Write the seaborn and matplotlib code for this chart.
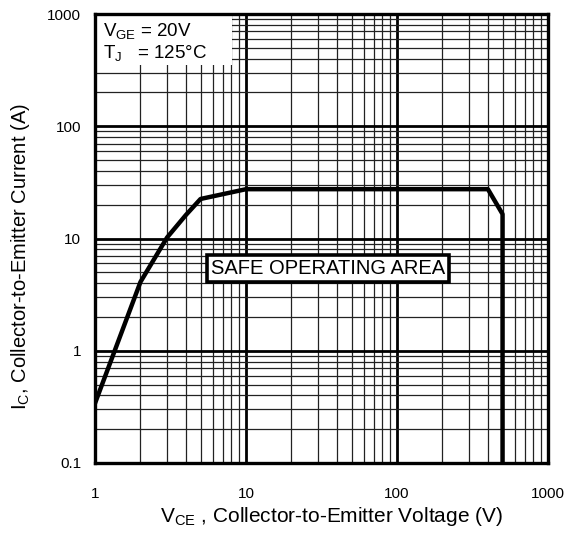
import matplotlib
matplotlib.use("Agg")
import matplotlib.pyplot as plt
import matplotlib.patches as patches
from matplotlib.ticker import LogLocator, NullFormatter, FixedLocator, FixedFormatter
import seaborn as sns
import pandas as pd

# Safe operating area boundary
vce = [1, 2, 3, 4, 5, 10, 400, 500, 500]
ic = [0.34, 4.1, 10.2, 16.2, 22.5, 27.5, 27.5, 16.5, 0.1]

x_ticks = [1, 10, 100, 1000]
x_labels = ["1", "10", "100", "1000"]
y_ticks = [0.1, 1, 10, 100, 1000]
y_labels = ["0.1", "1", "10", "100", "1000"]

df = pd.DataFrame({"VCE": vce, "IC": ic})

sns.set_style("white")
plt.rcParams["font.family"] = ["Liberation Sans", "DejaVu Sans"]
plt.rcParams["mathtext.default"] = "regular"
# seaborn uses dark grey for text; the datasheet is pure black
plt.rcParams["text.color"] = "black"
plt.rcParams["axes.labelcolor"] = "black"
plt.rcParams["xtick.color"] = "black"
plt.rcParams["ytick.color"] = "black"

fig = plt.figure(figsize=(5.73, 5.33), dpi=100)
ax = fig.add_axes([95 / 573, 70 / 533, 453 / 573, 449 / 533])

ax.set_xscale("log")
ax.set_yscale("log")
ax.set_xlim(1, 1000)
ax.set_ylim(0.1, 1000)

# estimator=None so the two points at 500 V are kept as a vertical drop
sns.lineplot(data=df, x="VCE", y="IC", sort=False, estimator=None,
             color="black", lw=3.2, ax=ax, zorder=5)

# grid
ax.xaxis.set_major_locator(FixedLocator(x_ticks))
ax.xaxis.set_major_formatter(FixedFormatter(x_labels))
ax.yaxis.set_major_locator(FixedLocator(y_ticks))
ax.yaxis.set_major_formatter(FixedFormatter(y_labels))
ax.xaxis.set_minor_locator(LogLocator(base=10, subs=range(2, 10)))
ax.yaxis.set_minor_locator(LogLocator(base=10, subs=range(2, 10)))
ax.xaxis.set_minor_formatter(NullFormatter())
ax.yaxis.set_minor_formatter(NullFormatter())
ax.grid(which="major", color="black", lw=2.0, zorder=1)
ax.grid(which="minor", color="#222222", lw=0.9, zorder=1)
ax.set_axisbelow(True)

ax.tick_params(which="both", length=0)
ax.tick_params(axis="x", labelsize=11, pad=17)
ax.tick_params(axis="y", labelsize=11, pad=10)

for s in ax.spines.values():
    s.set_visible(True)
    s.set_color("black")
    s.set_linewidth(2.4)
    s.set_zorder(10)

# condition box
ax.add_patch(patches.Rectangle((0, 0.886), 0.302, 0.114, transform=ax.transAxes,
                               facecolor="white", edgecolor="none", zorder=6))
ax.text(0.018, 0.962, "$V_{GE}$ = 20V", transform=ax.transAxes, fontsize=13.5,
        ha="left", va="center", zorder=7)
ax.text(0.018, 0.913, "$T_J$   = 125°C", transform=ax.transAxes, fontsize=13.5,
        ha="left", va="center", zorder=7)

ax.text(0.514, 0.434, "SAFE OPERATING AREA", transform=ax.transAxes,
        fontsize=14.5, ha="center", va="center", zorder=7,
        bbox=dict(boxstyle="square,pad=0.2", facecolor="white",
                  edgecolor="black", lw=2.6))

ax.set_xlabel("$V_{CE}$ , Collector-to-Emitter Voltage (V)", fontsize=15)
ax.set_ylabel("$I_C$, Collector-to-Emitter Current (A)", fontsize=14.5)
ax.xaxis.set_label_coords(0.523, -0.094)
ax.yaxis.set_label_coords(-0.138, 0.46)

fig.savefig("out.png", dpi=100)
